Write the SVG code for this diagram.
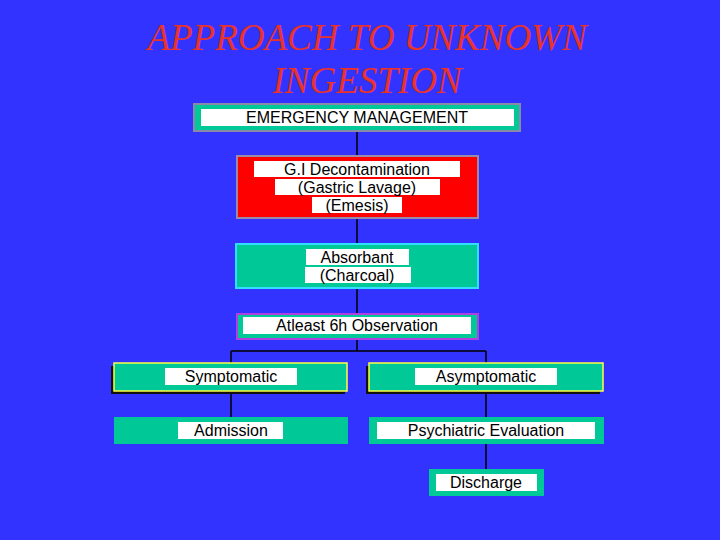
<svg xmlns="http://www.w3.org/2000/svg" width="720" height="540" viewBox="0 0 720 540">
<style>
.t{font-family:"Liberation Serif",serif;font-style:italic;font-size:37px;fill:#e8322a;text-anchor:middle}
.l{font-family:"Liberation Sans",Arial,sans-serif;font-size:16px;fill:#000;text-anchor:middle}
.hl{fill:#fff}
.c{stroke:#000;stroke-width:1.5;fill:none}
.tl{fill:#00c896}
</style>
<rect width="720" height="540" fill="#3333ff"/>
<text class="t" x="367" y="50">APPROACH TO UNKNOWN</text>
<text class="t" x="367" y="93">INGESTION</text>
<g id="connectors">
<path class="c" d="M357 131V155M357 218V243M357 288V313M357 339V351M231 351H486M231 351V363M486 351V363M231 392V417M486 392V417M486 444V469"/>
</g>
<g id="em"><rect x="194" y="104" width="326" height="27" class="tl" stroke="#8a8aa8" stroke-width="2"/><rect class="hl" x="201" y="109" width="313" height="17"/><text class="l" x="357" y="123">EMERGENCY MANAGEMENT</text></g>
<g id="gi"><rect x="237" y="156" width="241" height="62" fill="#ff0000" stroke="#9a8aa8" stroke-width="2"/><rect class="hl" x="254" y="161" width="206" height="16"/><rect class="hl" x="275" y="179" width="165" height="16"/><rect class="hl" x="312" y="197" width="90" height="16"/><text class="l" x="357" y="175">G.I Decontamination</text><text class="l" x="357" y="193">(Gastric Lavage)</text><text class="l" x="357" y="211">(Emesis)</text></g>
<g id="abs"><rect x="236" y="244" width="242" height="44" class="tl" stroke="#33ddff" stroke-width="2"/><rect class="hl" x="306" y="249" width="103" height="16"/><rect class="hl" x="305" y="267" width="106" height="16"/><text class="l" x="357" y="263">Absorbant</text><text class="l" x="357" y="281">(Charcoal)</text></g>
<g id="obs"><rect x="237" y="314" width="241" height="25" class="tl" stroke="#b040e0" stroke-width="2"/><rect class="hl" x="243" y="317" width="228" height="17"/><text class="l" x="357" y="331">Atleast 6h Observation</text></g>
<g id="sym"><rect x="111" y="366" width="234" height="28" fill="#111"/><rect x="114" y="363" width="233" height="28" class="tl" stroke="#ffff44" stroke-width="1.5"/><rect class="hl" x="165" y="368" width="132" height="17"/><text class="l" x="231" y="382">Symptomatic</text></g>
<g id="asym"><rect x="366" y="366" width="234" height="28" fill="#111"/><rect x="369" y="363" width="234" height="28" class="tl" stroke="#ffff44" stroke-width="1.5"/><rect class="hl" x="415" y="368" width="142" height="17"/><text class="l" x="486" y="382">Asymptomatic</text></g>
<g id="adm"><rect x="114" y="417" width="234" height="27" class="tl"/><rect class="hl" x="178" y="422" width="105" height="17"/><text class="l" x="231" y="436">Admission</text></g>
<g id="psy"><rect x="369" y="417" width="235" height="27" class="tl"/><rect class="hl" x="377" y="422" width="218" height="17"/><text class="l" x="486" y="436">Psychiatric Evaluation</text></g>
<g id="dis"><rect x="429" y="469" width="115" height="27" class="tl"/><rect class="hl" x="436" y="474" width="101" height="17"/><text class="l" x="486" y="488">Discharge</text></g>
</svg>
